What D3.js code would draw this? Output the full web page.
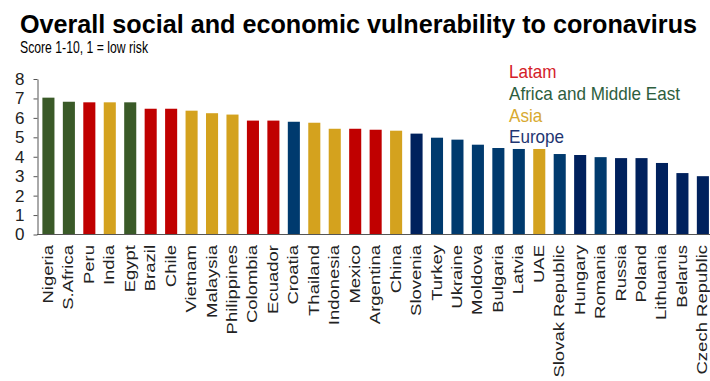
<!DOCTYPE html>
<html>
<head>
  <meta charset="utf-8">
  <script src="https://d3js.org/d3.v7.min.js"></script>
  <style>
    body { margin: 0; background: #fff; }
    svg { display: block; font-family: "Liberation Sans", Arial, sans-serif; }
    .axis path, .axis line { stroke: #555; }
  </style>
</head>
<body>
<script>
  var countries = ["Nigeria","S.Africa","Peru","India","Egypt","Brazil","Chile","Vietnam","Malaysia","Philippines",
    "Colombia","Ecuador","Croatia","Thailand","Indonesia","Mexico","Argentina","China","Slovenia","Turkey",
    "Ukraine","Moldova","Bulgaria","Latvia","UAE","Slovak Republic","Hungary","Romania","Russia","Poland",
    "Lithuania","Belarus","Czech Republic"];
  var scores = [7.04,6.83,6.8,6.8,6.8,6.47,6.47,6.37,6.24,6.17,
    5.86,5.86,5.8,5.75,5.44,5.44,5.39,5.34,5.19,4.98,
    4.88,4.62,4.45,4.4,4.4,4.14,4.09,3.98,3.93,3.93,
    3.68,3.16,3.0];
  // region of each bar; Europe comes in two shades in the original
  var regions = ["Africa","Africa","Latam","Asia","Africa","Latam","Latam","Asia","Asia","Asia",
    "Latam","Latam","Europe2","Asia","Asia","Latam","Latam","Asia","Europe","Europe2",
    "Europe2","Europe2","Europe2","Europe2","Asia","Europe2","Europe","Europe2","Europe","Europe",
    "Europe","Europe","Europe"];
  var legendNames = ["Latam","Africa and Middle East","Asia","Europe"];
  var yTicks = [0,1,2,3,4,5,6,7,8];

  var barColor = {Latam:"#c00000", Africa:"#3a5a28", Asia:"#d4a21e", Europe:"#00215d", Europe2:"#003a6e"};
  var legendColor = ["#d42028","#2d5e3e","#d8aa30","#1f3672"];

  var W = 710, H = 381;
  var svg = d3.select("body").append("svg").attr("width", W).attr("height", H);

  svg.append("text")
    .attr("x", 20).attr("y", 33)
    .attr("font-size", 25).attr("font-weight", "bold")
    .attr("textLength", 677).attr("lengthAdjust", "spacingAndGlyphs")
    .text("Overall social and economic vulnerability to coronavirus");
  svg.append("text")
    .attr("x", 20).attr("y", 53)
    .attr("font-size", 16.5)
    .attr("textLength", 128).attr("lengthAdjust", "spacingAndGlyphs")
    .text("Score 1-10, 1 = low risk");

  var x = d3.scaleBand().domain(countries).range([38.3, 713]).paddingInner(0.41).paddingOuter(0.2);
  var y = d3.scaleLinear().domain([0, 8]).range([234.5, 79]);

  svg.append("g").selectAll("rect")
    .data(countries)
    .enter()
    .append("rect")
    .attr("x", function(d){ return x(d); })
    .attr("width", x.bandwidth())
    .attr("y", function(d,i){ return y(scores[i]); })
    .attr("height", function(d,i){ return y(0) - y(scores[i]); })
    .attr("fill", function(d,i){ return barColor[regions[i]]; });

  var yAxis = svg.append("g").attr("class", "axis")
    .attr("transform", "translate(37.5,0)")
    .call(d3.axisLeft(y).tickValues(yTicks).tickSize(4).tickPadding(9).tickSizeOuter(0));
  yAxis.selectAll("text").attr("font-size", 17).attr("fill", "#222").attr("font-family", "Liberation Sans, Arial, sans-serif");

  svg.append("line")
    .attr("x1", 37).attr("x2", W)
    .attr("y1", y(0)).attr("y2", y(0))
    .attr("stroke", "#555");

  svg.append("g").selectAll("text")
    .data(countries)
    .enter()
    .append("text")
    .attr("transform", function(d){
      return "translate(" + (x(d) + x.bandwidth()/2 + 4.5) + ",245) rotate(-90) scale(1,0.82)";
    })
    .attr("text-anchor", "end")
    .attr("font-size", 18.5)
    .attr("fill", "#222")
    .text(function(d){ return d; });

  svg.append("g").selectAll("text")
    .data(legendNames)
    .enter()
    .append("text")
    .attr("x", 509)
    .attr("y", function(d,i){ return 78.3 + i*21.7; })
    .attr("font-size", 18)
    .attr("fill", function(d,i){ return legendColor[i]; })
    .attr("transform", "translate(509,0) scale(0.95,1) translate(-509,0)")
    .text(function(d){ return d; });
</script>
</body>
</html>
